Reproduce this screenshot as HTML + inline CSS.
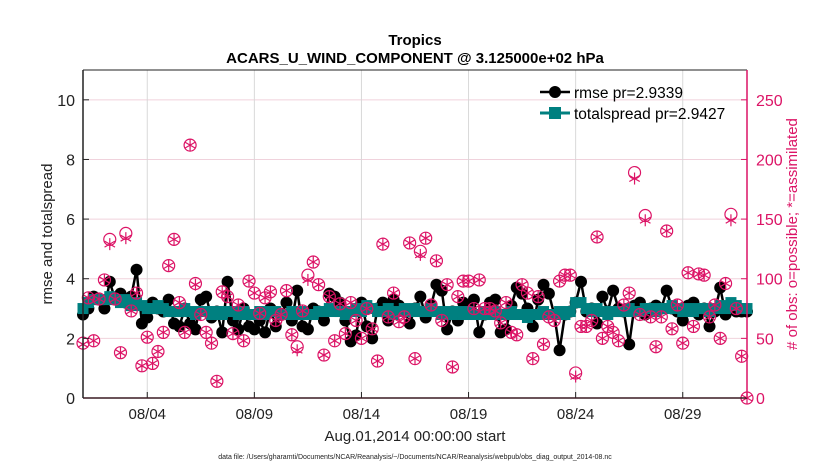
<!DOCTYPE html>
<html><head><meta charset="utf-8"><style>
body{margin:0;background:#fff;}
svg{font-family:"Liberation Sans",sans-serif;}
</style></head><body>
<svg id="chart" width="830" height="470" viewBox="0 0 830 470">
<text x="415" y="45" text-anchor="middle" font-size="15" font-weight="bold">Tropics</text>
<text x="415" y="63" text-anchor="middle" font-size="15" font-weight="bold">ACARS_U_WIND_COMPONENT @ 3.125000e+02 hPa</text>
<g id="grid"></g>
<g id="series"></g>
<g id="axes"></g>
<text x="415" y="441" text-anchor="middle" font-size="15" fill="#222">Aug.01,2014 00:00:00 start</text>
<text x="415" y="459" text-anchor="middle" font-size="7" fill="#222">data file: /Users/gharamti/Documents/NCAR/Reanalysis/~/Documents/NCAR/Reanalysis/webpub/obs_diag_output_2014-08.nc</text>
<text transform="translate(52,234) rotate(-90)" text-anchor="middle" font-size="15" fill="#222">rmse and totalspread</text>
<text transform="translate(797,234) rotate(-90)" text-anchor="middle" font-size="15" fill="#dc1466"># of obs: o=possible; *=assimilated</text>
<g>
<line x1="540" y1="92" x2="570" y2="92" stroke="#000" stroke-width="2.5"/>
<circle cx="555" cy="92" r="6" fill="#000"/>
<text x="574" y="98" font-size="15.5">rmse pr=2.9339</text>
<line x1="540" y1="113" x2="570" y2="113" stroke="#008080" stroke-width="3"/>
<rect x="549" y="107" width="12" height="12" fill="#008080"/>
<text x="574" y="119" font-size="15.5">totalspread pr=2.9427</text>
</g>
</svg>
<script>
const xTickLabels=["08/04","08/09","08/14","08/19","08/24","08/29"];
const xTickDays=[3,8,13,18,23,28];
const yTicks=[0,2,4,6,8,10];
const y2Ticks=[0,50,100,150,200,250];
const rmse=[2.8,3.0,3.4,3.3,3.0,3.9,3.3,3.5,3.2,3.4,
4.3,2.5,2.7,3.2,3.0,2.9,3.3,2.5,2.4,3.0,
2.5,2.3,3.3,3.4,2.7,2.9,2.2,3.9,2.6,2.3,
3.0,2.4,2.3,2.6,2.2,3.0,2.4,2.8,3.2,2.6,
3.6,2.4,2.3,3.0,2.9,2.6,3.5,3.4,3.2,2.6,
1.9,2.1,3.2,2.4,2.0,3.0,3.2,2.6,3.3,3.1,
2.9,2.5,3.0,3.4,2.7,3.1,3.8,3.6,2.3,2.9,
2.6,3.2,3.0,3.3,2.2,2.8,3.2,3.3,2.2,2.3,
3.1,3.7,3.5,3.0,2.4,3.3,3.8,3.5,2.8,1.6,
2.8,2.9,3.2,3.9,2.9,3.0,2.5,3.4,2.9,3.6,
3.0,2.9,1.8,3.1,3.2,2.8,3.0,3.1,3.0,3.6,
3.0,2.9,2.6,3.1,3.2,2.8,3.0,2.4,2.9,3.7,
2.8,3.1,2.9,2.9,2.9];
const spread=[3.0,3.2,3.3,3.3,3.3,3.4,3.3,3.2,3.3,3.1,
3.2,3.1,3.0,3.0,3.1,3.0,2.9,2.9,2.9,3.0,
2.9,2.8,2.9,2.9,2.8,2.9,2.8,2.9,2.9,2.8,
2.9,2.8,2.8,2.9,2.8,2.9,2.9,2.8,2.8,2.9,
2.8,2.9,2.8,2.8,2.9,2.9,3.0,2.9,2.9,2.8,
2.9,3.0,2.9,3.1,3.0,2.9,2.9,3.0,2.8,2.9,
3.0,2.9,3.0,2.9,2.9,3.0,2.9,2.8,2.9,2.8,
2.9,2.8,2.9,2.8,2.8,2.9,2.8,2.9,2.8,2.8,
2.9,2.8,2.8,2.7,2.8,2.8,2.9,2.8,2.8,2.9,
2.8,2.9,3.2,3.2,3.0,2.9,3.0,2.9,2.8,2.9,
2.9,2.9,3.0,2.9,2.9,3.0,3.0,2.9,3.0,3.0,
3.1,3.0,2.9,3.0,2.9,3.0,3.0,2.9,3.0,3.1,
3.0,3.2,3.1,3.0,3.0];
const obsPossible=[46,84,48,83,99,133,83,38,138,73,
88,27,51,29,39,55,111,133,80,55,
212,96,70,55,46,14,89,85,54,78,
48,98,88,71,84,89,65,70,90,53,
43,73,103,114,95,36,85,48,79,54,
80,65,50,75,58,31,129,68,88,64,
68,130,33,123,134,78,115,65,95,26,
85,98,98,75,99,75,75,73,63,80,
55,53,95,88,33,85,45,68,65,98,
103,103,21,60,60,65,135,50,60,55,
48,78,88,189,70,153,68,43,68,140,
58,78,46,105,60,104,103,68,78,50,
96,154,75,35,0];
const obsAssim=[45,84,48,83,99,129,83,38,134,73,
88,27,51,29,39,55,111,133,80,55,
212,95,70,55,46,14,89,85,54,78,
48,98,88,71,84,89,65,70,90,53,
40,73,99,114,95,36,85,48,79,54,
80,65,50,75,58,31,129,68,88,64,
68,130,33,120,134,78,115,65,95,26,
85,98,98,75,99,75,75,73,63,80,
55,53,95,88,33,85,45,68,65,98,
103,103,18,60,60,65,135,50,60,55,
48,78,88,184,70,149,68,43,68,140,
58,78,46,105,60,104,103,68,78,50,
96,149,75,35,0];

const L=83,R=747,T=70,B=398;
const NS="http://www.w3.org/2000/svg";
const xAt=i=>L+(R-L)*i/124;
const xDay=d=>L+(R-L)*d/31;
const yL=v=>B-(B-T)*v/11;
const yR=n=>B-(B-T)*n/275;
function mk(tag,attrs,parent){const e=document.createElementNS(NS,tag);for(const k in attrs)e.setAttribute(k,attrs[k]);parent.appendChild(e);return e;}
const grid=document.getElementById('grid'),ser=document.getElementById('series'),ax=document.getElementById('axes');
yTicks.forEach(v=>{if(v>0){const g=mk('line',{x1:L,x2:R,y1:yL(v),y2:yL(v),stroke:'#f0d2dc','stroke-width':1},grid);

}
const t=mk('text',{x:L-8,y:yL(v)+6,'text-anchor':'end','font-size':16,fill:'#222'},ax);t.textContent=v;


mk('line',{x1:L,x2:L+6,y1:yL(v),y2:yL(v),stroke:'#222'},ax);});
y2Ticks.forEach(n=>{const t=mk('text',{x:R+9,y:yR(n)+6,'font-size':16,fill:'#dc1466'},ax);t.textContent=n;


mk('line',{x1:R-6,x2:R,y1:yR(n),y2:yR(n),stroke:'#dc1466'},ax);});
xTickDays.forEach((d,k)=>{const g=mk('line',{x1:xDay(d),x2:xDay(d),y1:T,y2:B,stroke:'#d8d8d8','stroke-width':1},grid);


mk('line',{x1:xDay(d),x2:xDay(d),y1:B-6,y2:B,stroke:'#222'},ax);
const t=mk('text',{x:xDay(d),y:419,'text-anchor':'middle','font-size':15,fill:'#222'},ax);t.textContent=xTickLabels[k];

});
mk('line',{x1:L,x2:R,y1:T,y2:T,stroke:'#222'},ax);
mk('line',{x1:L,x2:R,y1:B,y2:B,stroke:'#3a1a22','stroke-width':1.5},ax);
mk('line',{x1:L,x2:L,y1:T,y2:B,stroke:'#222','stroke-width':1.5},ax);
mk('line',{x1:R,x2:R,y1:T,y2:B,stroke:'#dc1466','stroke-width':1.5},ax);
const rl=mk('polyline',{points:rmse.map((v,i)=>xAt(i)+','+yL(v)).join(' '),fill:'none',stroke:'#000','stroke-width':2.5},ser);


rmse.forEach((v,i)=>{const c=mk('circle',{cx:xAt(i),cy:yL(v),r:6,fill:'#000'},ser);

});
const sl=mk('polyline',{points:spread.map((v,i)=>xAt(i)+','+yL(v)).join(' '),fill:'none',stroke:'#008080','stroke-width':3},ser);


spread.forEach((v,i)=>{const s=mk('rect',{x:xAt(i)-5.5,y:yL(v)-5.5,width:11,height:11,fill:'#008080'},ser);

});
obsPossible.forEach((n,i)=>{const c=mk('circle',{cx:xAt(i),cy:yR(n),r:6,fill:'none',stroke:'#dc1466','stroke-width':1.2},ser);

});
obsAssim.forEach((n,i)=>{const x=xAt(i),y=yR(n),r=6;const g=mk('g',{stroke:'#dc1466','stroke-width':1.2},ser);


mk('line',{x1:x,x2:x,y1:y-r,y2:y+r},g);
mk('line',{x1:x-r*0.87,x2:x+r*0.87,y1:y-r*0.5,y2:y+r*0.5},g);
mk('line',{x1:x-r*0.87,x2:x+r*0.87,y1:y+r*0.5,y2:y-r*0.5},g);});
</script>
</body></html>
